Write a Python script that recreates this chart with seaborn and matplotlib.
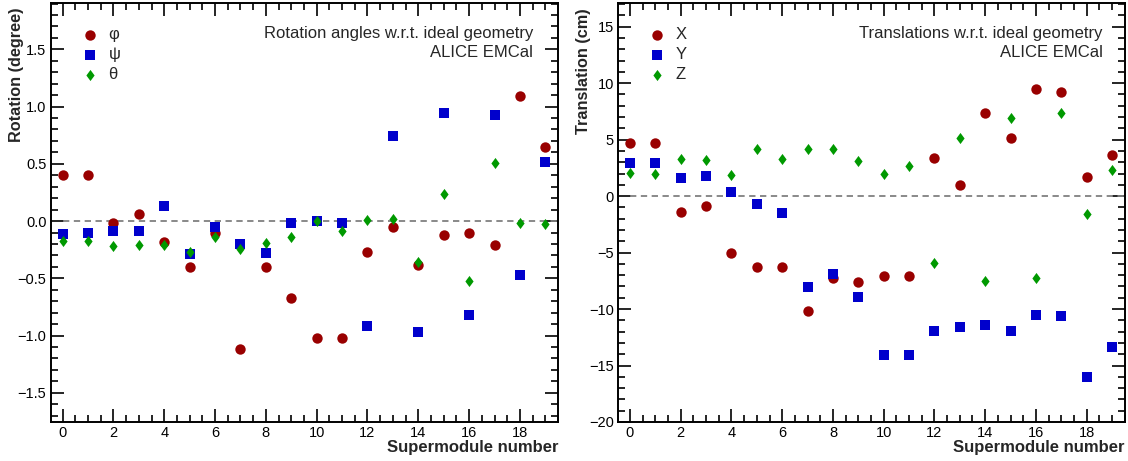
import numpy as np
import pandas as pd
import matplotlib
matplotlib.use("Agg")
import matplotlib.pyplot as plt
import seaborn as sns
from matplotlib.ticker import MultipleLocator

sm = list(range(20))

# Rotation angles (degree)
rot_phi = [0.40, 0.40, -0.02, 0.06, -0.18, -0.40, -0.10, -1.12, -0.40, -0.675,
           -1.02, -1.02, -0.27, -0.05, -0.38, -0.12, -0.10, -0.21, 1.09, 0.65]
rot_psi = [-0.11, -0.10, -0.085, -0.085, 0.13, -0.29, -0.055, -0.20, -0.28, -0.02,
           0.00, -0.02, -0.92, 0.74, -0.97, 0.94, -0.82, 0.93, -0.47, 0.515]
rot_theta = [-0.17, -0.17, -0.22, -0.21, -0.21, -0.27, -0.14, -0.24, -0.19, -0.14,
             0.00, -0.09, 0.01, 0.02, -0.355, 0.235, -0.52, 0.51, -0.015, -0.025]

# Translations (cm)
tr_x = [4.70, 4.70, -1.42, -0.91, -5.0, -6.3, -6.3, -10.17, -7.21, -7.63,
        -7.04, -7.04, 3.41, 1.01, 7.37, 5.15, 9.49, 9.23, 1.69, 3.64]
tr_y = [2.93, 2.93, 1.57, 1.75, 0.39, -0.67, -1.51, -8.07, -6.89, -8.96,
        -14.1, -14.1, -11.92, -11.56, -11.38, -11.98, -10.50, -10.59, -16.06, -13.34]
tr_z = [2.04, 1.99, 3.26, 3.17, 1.84, 4.2, 3.32, 4.14, 4.17, 3.1,
        1.99, 2.66, -5.88, 5.18, -7.51, 6.87, -7.24, 7.37, -1.56, 2.34]

rot_labels = ["φ", "ψ", "θ"]
tr_labels = ["X", "Y", "Z"]

RED = "#990000"
BLUE = "#0000cc"
GREEN = "#009900"
colors = [RED, BLUE, GREEN]
DIAMOND = [(0, 1), (0.74, 0), (0, -1), (-0.74, 0), (0, 1)]
markers = ["o", "s", DIAMOND]
sizes = [56, 56, 64]

sns.set_style("ticks")
plt.rcParams["font.family"] = ["Liberation Sans", "DejaVu Sans"]
plt.rcParams["axes.linewidth"] = 1.4

fig = plt.figure(figsize=(11.28, 4.61), dpi=100)
axL = fig.add_axes([0.0449, 0.0846, 0.4498, 0.909])
axR = fig.add_axes([0.5479, 0.0846, 0.4492, 0.909])


def panel(ax, series, labels, ylim, ymaj, ymin, ylabel, title, tx):
    for vals, lab, c, m, s in zip(series, labels, colors, markers, sizes):
        df = pd.DataFrame({"sm": sm, "v": vals})
        sns.scatterplot(data=df, x="sm", y="v", ax=ax, color=c, marker=m, s=s,
                        linewidth=0, label=lab, zorder=3)
    ax.hlines(0, 0, 19.5, colors="#808080", linestyles=(0, (3.5, 2.5)), linewidth=1.3, zorder=2)
    ax.set_xlim(-0.47, 19.5)
    ax.set_ylim(*ylim)
    ax.xaxis.set_major_locator(MultipleLocator(2))
    ax.xaxis.set_minor_locator(MultipleLocator(0.5))
    ax.yaxis.set_major_locator(MultipleLocator(ymaj))
    ax.yaxis.set_minor_locator(MultipleLocator(ymin))
    ax.tick_params(which="both", direction="in", top=True, right=True, width=1.2,
                   labelsize=10.5, pad=3, colors="black")
    ax.tick_params(which="major", length=9.5)
    ax.tick_params(which="minor", length=5)
    for sp in ax.spines.values():
        sp.set_visible(True)
        sp.set_color("black")
    ax.set_xlabel("Supermodule number", loc="right", fontweight="bold", fontsize=12)
    ax.xaxis.set_label_coords(1.0, -0.044)
    ax.set_ylabel(ylabel, loc="top", fontweight="bold", fontsize=11.7)
    ax.yaxis.set_label_coords(-0.053, 0.988)
    ax.text(tx, 0.928, title, transform=ax.transAxes, ha="right", va="center", fontsize=12)
    ax.text(tx, 0.881, "ALICE EMCal", transform=ax.transAxes, ha="right", va="center", fontsize=12)
    ax.legend(loc="upper left", bbox_to_anchor=(0.035, 0.97), frameon=False, fontsize=12,
              handletextpad=0.5, labelspacing=0.3, borderaxespad=0.3, handlelength=1.2)
    ax.grid(False)


panel(axL, [rot_phi, rot_psi, rot_theta], rot_labels, (-1.755, 1.905), 0.5, 0.1,
      "Rotation (degree)", "Rotation angles w.r.t. ideal geometry", 0.951)
panel(axR, [tr_x, tr_y, tr_z], tr_labels, (-20, 17.1), 5, 1,
      "Translation (cm)", "Translations w.r.t. ideal geometry", 0.957)

fig.savefig("out.png", dpi=100)
